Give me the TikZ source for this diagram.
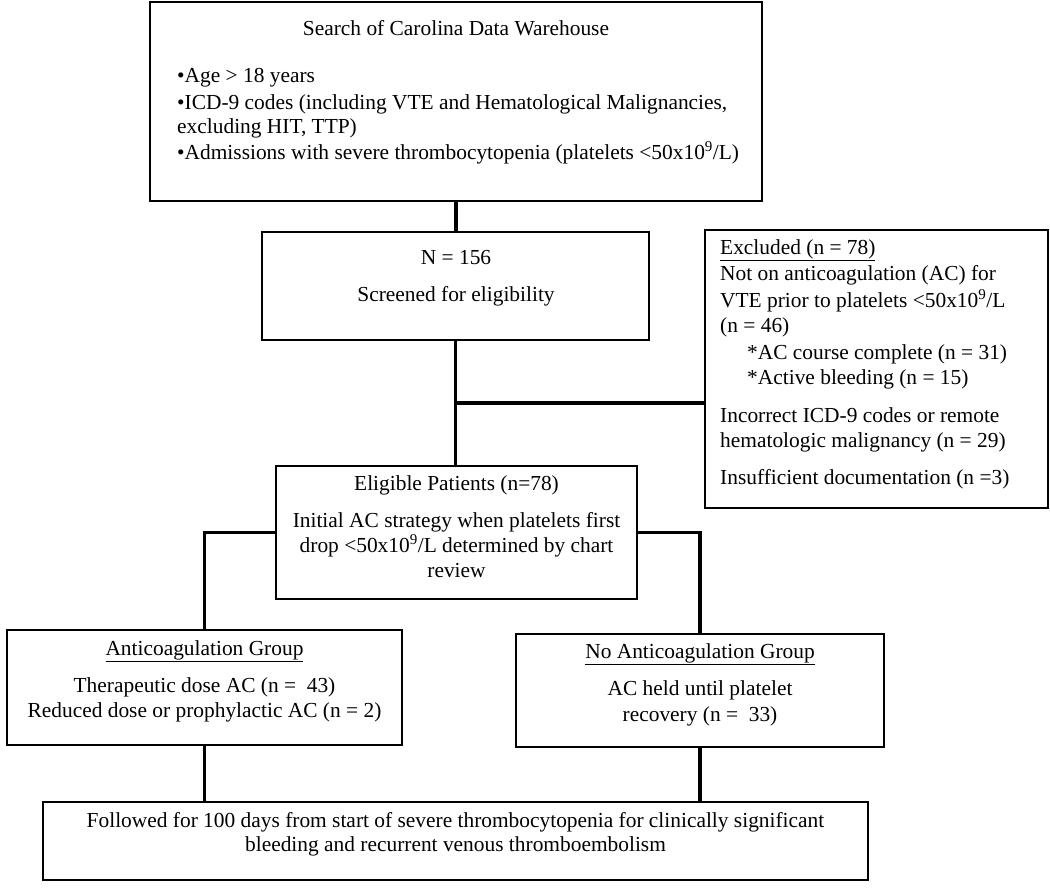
\documentclass[tikz,border=0pt]{standalone}
\usepackage{fontspec}
\setmainfont{Liberation Serif}
\begin{document}
\begin{tikzpicture}[x=1pt,y=-1pt,
  box/.style={draw, line width=1.8pt, inner sep=0pt, outer sep=0pt, anchor=north west},
  conn/.style={line width=3.3pt},
  txt/.style={inner sep=0pt, font=\fontsize{21.4}{25}\selectfont, anchor=mid},
  ltxt/.style={txt, anchor=mid west}]
\useasboundingbox (0,0) rectangle (1050,887);
% boxes
\node[box, minimum width=612, minimum height=199] (top) at (150,2) {};
\node[box, minimum width=387, minimum height=108] (nbox) at (262,232) {};
\node[box, minimum width=343, minimum height=278] (excl) at (705,230) {};
\node[box, minimum width=361, minimum height=133] (elig) at (276,466) {};
\node[box, minimum width=395, minimum height=115] (ac) at (7,630) {};
\node[box, minimum width=368, minimum height=113] (noac) at (516,634) {};
\node[box, minimum width=825, minimum height=78] (fol) at (43,802) {};
% top box text
\node[txt] (t1) at (456,33) {Search of Carolina Data Warehouse};
\node[ltxt] (t2) at (177,80) {•Age > 18 years};
\node[ltxt] (t3) at (177,107) {•ICD-9 codes (including VTE and Hematological Malignancies,};
\node[ltxt] (t4) at (177,131) {excluding HIT, TTP)};
\node[ltxt] (t5) at (177,157) {•Admissions with severe thrombocytopenia (platelets <50x10\textsuperscript{9}/L)};
% N box
\node[txt] (n1) at (456,262) {N = 156};
\node[txt] (n2) at (456,299) {Screened for eligibility};
% excluded
\node[ltxt] (e1) at (720,252) {\underline{Excluded (n = 78)}};
\node[ltxt] (e2) at (720,278) {Not on anticoagulation (AC) for};
\node[ltxt] (e3) at (720,305) {VTE prior to platelets <50x10\textsuperscript{9}/L};
\node[ltxt] (e4) at (720,330) {(n = 46)};
\node[ltxt] (e5) at (747,357) {*AC course complete (n = 31)};
\node[ltxt] (e6) at (747,382) {*Active bleeding (n = 15)};
\node[ltxt] (e7) at (720,420) {Incorrect ICD-9 codes or remote};
\node[ltxt] (e8) at (720,445) {hematologic malignancy (n = 29)};
\node[ltxt] (e9) at (720,482) {Insufficient documentation (n =3)};
% eligible
\node[txt] (g1) at (456.5,488) {Eligible Patients (n=78)};
\node[txt] (g2) at (456.5,525) {Initial AC strategy when platelets first};
\node[txt] (g3) at (456.5,550) {drop <50x10\textsuperscript{9}/L determined by chart};
\node[txt] (g4) at (456.5,575) {review};
% anticoagulation
\node[txt] (a1) at (204.5,653) {\underline{Anticoagulation Group}};
\node[txt] (a2) at (204.5,690) {Therapeutic dose AC (n =~~43)};
\node[txt] (a3) at (204.5,715) {Reduced dose or prophylactic AC (n = 2)};
% no anticoagulation
\node[txt] (b1) at (700,656) {\underline{No Anticoagulation Group}};
\node[txt] (b2) at (700,693) {AC held until platelet};
\node[txt] (b3) at (700,719) {recovery (n =~~33)};
% followed
\node[txt] (f1) at (455.5,825) {Followed for 100 days from start of severe thrombocytopenia for clinically significant};
\node[txt] (f2) at (455.5,849) {bleeding and recurrent venous thromboembolism};
% connectors
\draw[conn] (top.south) -- (top.south |- nbox.north);
\draw[conn] (nbox.south) -- (nbox.south |- elig.north);
\coordinate (br) at (nbox.south |- 0,403);
\draw[conn] (br) -- (br -| excl.west);
\draw[conn] (elig.west) -| (ac.north);
\draw[conn] (elig.east) -| (noac.north);
\draw[conn] (ac.south) -- (ac.south |- fol.north);
\draw[conn] (noac.south) -- (noac.south |- fol.north);
\end{tikzpicture}
\end{document}
